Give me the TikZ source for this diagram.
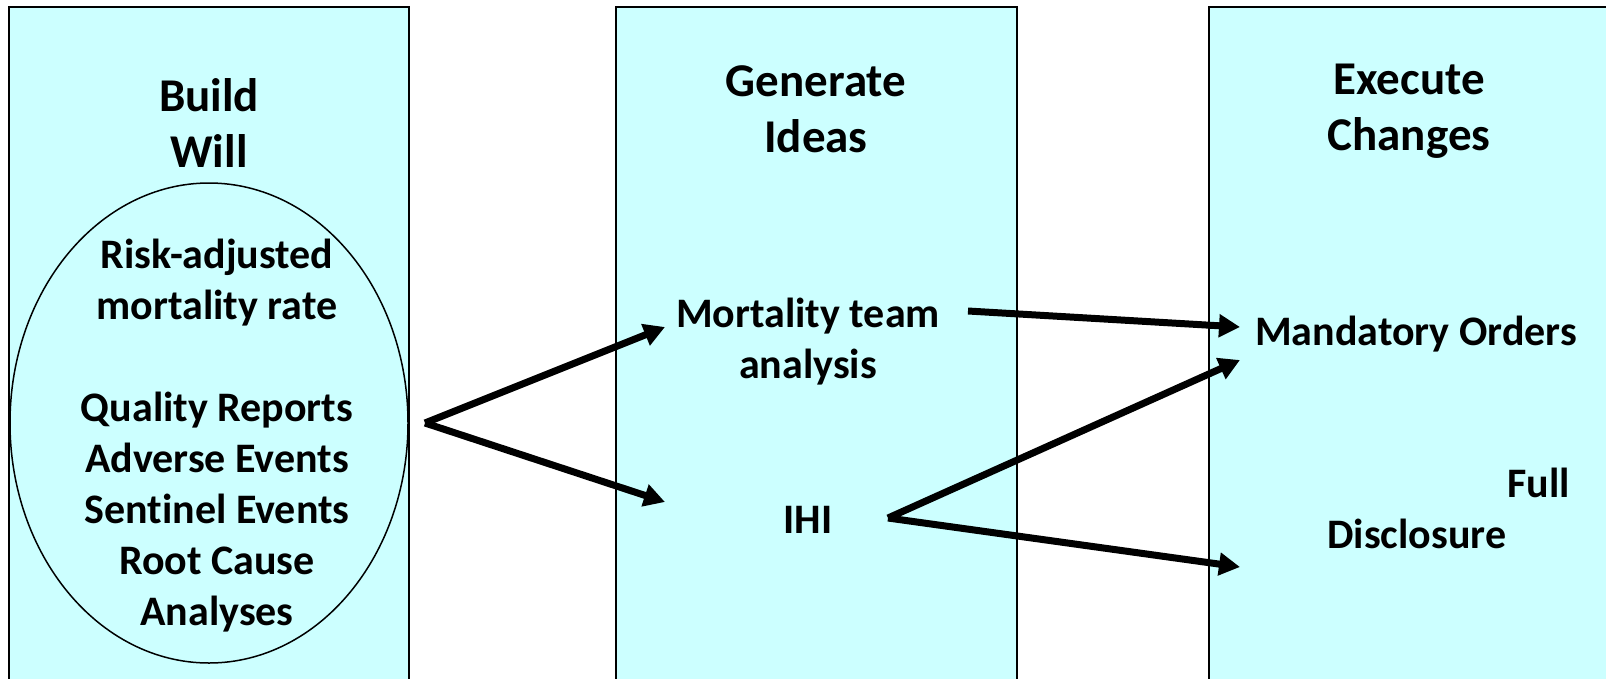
\documentclass[tikz,border=0pt]{standalone}
\usepackage{fontspec}
\setmainfont{Carlito}[Ligatures={NoCommon}]
\usetikzlibrary{arrows.meta}
\definecolor{panelfill}{HTML}{CCFFFF}
\begin{document}
\begin{tikzpicture}[x=1pt,y=-1pt,
  panel/.style={draw=black,line width=2pt,fill=panelfill},
  titletext/.style={font=\bfseries\fontsize{47}{56}\selectfont,align=center,inner sep=0pt,anchor=base},
  bodytext/.style={font=\bfseries\fontsize{42}{51}\selectfont,align=center,inner sep=0pt,anchor=base},
  bigarrow/.style={line width=7pt,-{Triangle[length=21pt,width=22pt]}}]
\useasboundingbox (0,0) rectangle (1606,678);
\clip (0,0) rectangle (1606,678);
\fill[white] (0,0) rectangle (1606,678);
% panels
\draw[panel] (9,7) rectangle (409,700);
\draw[panel] (616,7) rectangle (1017,700);
\draw[panel] (1209,7) rectangle (1630,700);
% ellipse
\draw[line width=1.5pt] (209,423) ellipse [x radius=199, y radius=240];
% titles (anchored at the baseline of the last line)
\node[titletext] (build) at (209,167) {Build\\Will};
\node[titletext] (gen) at (816,152) {Generate\\Ideas};
\node[titletext] (exec) at (1409,150) {Execute\\Changes};
% ellipse text
\node[bodytext] (will) at (217,625) {Risk-adjusted\\mortality rate\\[51pt]Quality Reports\\Adverse Events\\Sentinel Events\\Root Cause\\Analyses};
% middle
\node[bodytext] (mort) at (808,378) {Mortality team\\analysis};
\node[bodytext] (ihi) at (808,533) {IHI};
% right
\node[bodytext] (mand) at (1416,345) {Mandatory Orders};
\node[bodytext,align=left,anchor=base west] (full) at (1327,548) {\hspace*{180pt}Full\\Disclosure};
% connectors
\coordinate (s1) at (425,423);
\coordinate (t1) at (665,327);
\coordinate (t2) at (665,502);
\coordinate (s3) at (968,311);
\coordinate (t3) at (1240,327);
\coordinate (s4) at (888,518);
\coordinate (t4) at (1240,360);
\coordinate (t5) at (1240,567);
\draw[bigarrow] (s1) -- (t1);
\draw[bigarrow] (s1) -- (t2);
\draw[bigarrow] (s3) -- (t3);
\draw[bigarrow] (s4) -- (t4);
\draw[bigarrow] (s4) -- (t5);
\end{tikzpicture}
\end{document}
